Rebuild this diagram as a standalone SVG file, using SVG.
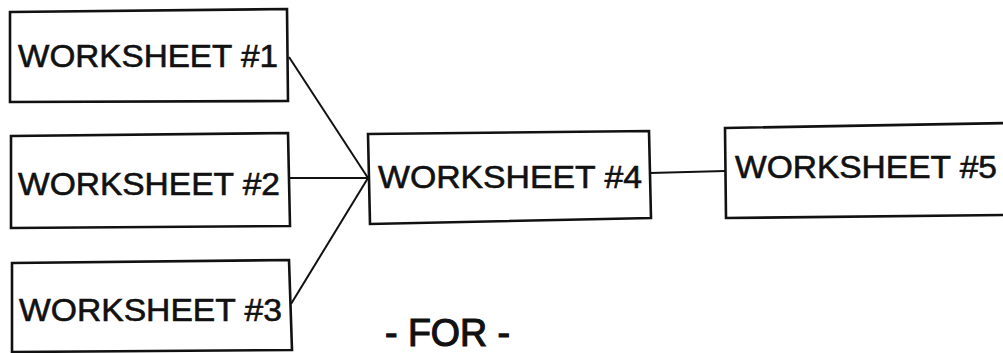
<svg xmlns="http://www.w3.org/2000/svg" width="1003" height="353" viewBox="0 0 1003 353">
<style>
.box{fill:#fff;stroke:#111;stroke-width:2.6}
.lbl{font-family:"Liberation Sans",Arial,sans-serif;font-size:32px;fill:#111;stroke:#111;stroke-width:0.6}
.con{stroke:#111;stroke-width:2;fill:none}
</style>
<rect width="1003" height="353" fill="#fff"/>
<g id="connectors">
<line class="con" x1="289" y1="57" x2="368" y2="178"/>
<line class="con" x1="290" y1="178" x2="368" y2="178"/>
<line class="con" x1="291" y1="304" x2="368" y2="178"/>
<line class="con" x1="650" y1="173" x2="725" y2="171"/>
</g>
<g id="ws1">
<polygon class="box" points="10,12 287,9 288,101 10,102"/>
<text class="lbl" x="18" y="67" textLength="260" lengthAdjust="spacingAndGlyphs">WORKSHEET #1</text>
</g>
<g id="ws2">
<polygon class="box" points="11,136 288,133 290,226 11,228"/>
<text class="lbl" x="18" y="195" textLength="262" lengthAdjust="spacingAndGlyphs">WORKSHEET #2</text>
</g>
<g id="ws3">
<polygon class="box" points="12,263 289,260 292,350 12,352"/>
<text class="lbl" x="19" y="321" textLength="263" lengthAdjust="spacingAndGlyphs">WORKSHEET #3</text>
</g>
<g id="ws4">
<polygon class="box" points="368,134 649,131 651,218 370,224"/>
<text class="lbl" x="378" y="188" textLength="264" lengthAdjust="spacingAndGlyphs">WORKSHEET #4</text>
</g>
<g id="ws5">
<polygon class="box" points="725,128 1010,123 1010,215 726,218"/>
<text class="lbl" x="735" y="178" textLength="262" lengthAdjust="spacingAndGlyphs">WORKSHEET #5</text>
</g>
<text x="385" y="346" font-family="'Liberation Sans',Arial,sans-serif" font-size="38" fill="#111" stroke="#111" stroke-width="1.2" textLength="125" lengthAdjust="spacingAndGlyphs">- FOR -</text>
</svg>
